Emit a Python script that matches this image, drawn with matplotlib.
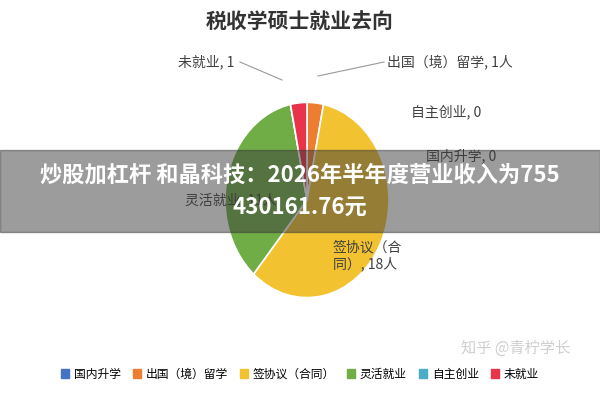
import matplotlib
matplotlib.use("Agg")
import matplotlib.pyplot as plt

plt.rcParams['font.family'] = ['Noto Sans CJK SC', 'DejaVu Sans']

categories = ["国内升学", "出国（境）留学", "签协议（合同）", "灵活就业", "自主创业", "未就业"]
values = [0, 1, 18, 11, 0, 1]
colors = ["#4472C4", "#ED7D31", "#F2C230", "#70AD47", "#4BACC6", "#E8334A"]

fig = plt.figure(figsize=(6, 4), dpi=100)
fig.patch.set_facecolor("white")
# center (307,200) px, 205 x 244 px
ax = fig.add_axes([(307 - 102.5) / 600, (400 - 200 - 122) / 400, 205 / 600, 244 / 400])
wedges, _ = ax.pie(values, colors=colors, startangle=90, counterclock=False,
                   wedgeprops=dict(edgecolor="white", linewidth=1.2))
ax.set_aspect("auto")

fig.text(0.5, 0.945, "税收学硕士就业去向", ha="center", va="center", fontsize=15,
         color="#333333", fontweight="bold")

lbl = dict(fontsize=10, color="#404040", va="center")
fig.text(0.39, 0.845, "未就业, 1", ha="right", **lbl)
fig.text(0.645, 0.845, "出国（境）留学, 1人", ha="left", **lbl)
fig.text(0.685, 0.72, "自主创业, 0", ha="left", **lbl)
fig.text(0.71, 0.61, "国内升学, 0", ha="left", **lbl)
fig.text(0.385, 0.5, "灵活就业, 11人", ha="center", **lbl)
fig.text(0.555, 0.36, "签协议（合\n同）, 18人", ha="left", **lbl)
fig.lines.append(plt.Line2D([0.40, 0.47], [0.845, 0.8], transform=fig.transFigure, color="#999999", lw=0.8))
fig.lines.append(plt.Line2D([0.64, 0.53], [0.845, 0.81], transform=fig.transFigure, color="#999999", lw=0.8))

handles = [plt.Rectangle((0, 0), 1, 1, color=c) for c in colors]
fig.legend(handles, categories, loc="center", bbox_to_anchor=(0.5, 0.065), ncol=6,
           frameon=False, fontsize=8.5, handlelength=0.7, handleheight=0.7,
           columnspacing=1.0, handletextpad=0.4)

fig.patches.append(plt.Rectangle((0, 0.42), 1, 0.205, transform=fig.transFigure,
                                 color="#3a3a3a", alpha=0.5, zorder=5))
fig.text(0.5, 0.522, "炒股加杠杆 和晶科技：2026年半年度营业收入为755\n430161.76元",
         ha="center", va="center", fontsize=16, color="white", fontweight="bold",
         linespacing=1.5, zorder=6)
fig.text(0.86, 0.13, "知乎 @青柠学长", ha="center", va="center", fontsize=11,
         color="#BBBBBB", alpha=0.7, zorder=6)

fig.savefig("out.png", dpi=100)
